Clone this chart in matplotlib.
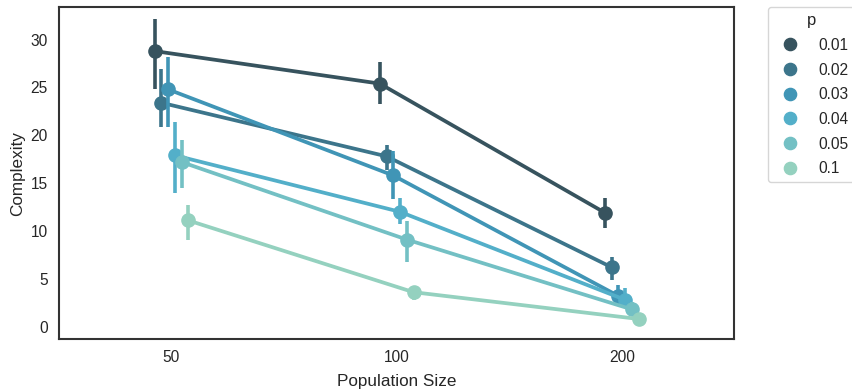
import matplotlib
matplotlib.use("Agg")
import matplotlib.pyplot as plt
import numpy as np
import seaborn as sns

sns.set_style("white")
plt.rcParams["font.family"] = ["Liberation Sans", "DejaVu Sans"]

# population sizes on the x axis, mutation rate p as hue
pop_sizes = ["50", "100", "200"]
p_values = ["0.01", "0.02", "0.03", "0.04", "0.05", "0.1"]

# mean complexity per p (rows) and population size (columns)
means = [
    [28.8, 25.4, 11.9],
    [23.4, 17.8, 6.2],
    [24.8, 15.8, 3.2],
    [17.9, 12.0, 2.8],
    [17.2, 9.1, 1.8],
    [11.1, 3.6, 0.8],
]
# confidence interval bounds
ci_low = [
    [24.8, 23.3, 10.3],
    [20.9, 16.4, 4.9],
    [20.9, 13.3, 2.2],
    [14.0, 10.7, 2.0],
    [14.5, 6.8, 1.2],
    [9.1, 2.8, 0.4],
]
ci_high = [
    [32.1, 27.7, 13.4],
    [26.9, 19.0, 7.3],
    [28.2, 18.4, 4.4],
    [21.4, 13.4, 4.0],
    [19.5, 11.0, 2.6],
    [12.7, 4.2, 1.2],
]

colors = sns.color_palette("GnBu_d", len(p_values))[::-1]

fig = plt.figure(figsize=(8.53, 3.92), dpi=100)
ax = fig.add_axes([0.069, 0.135, 0.792, 0.847])

x = np.arange(len(pop_sizes))
offsets = np.linspace(0, 0.15, len(p_values)) - 0.075

for i, p in enumerate(p_values):
    xs = x + offsets[i]
    c = colors[i]
    ax.vlines(xs, ci_low[i], ci_high[i], color=c, lw=2.6, zorder=2 + i)
    ax.plot(xs, means[i], color=c, lw=2.7, marker="o", ms=9.5,
            label=p, zorder=2 + i)

ax.set_xlim(-0.5, 2.5)
ax.set_ylim(-1.3, 33.4)
ax.set_xticks(x)
ax.set_xticklabels(pop_sizes)
ax.set_yticks([0, 5, 10, 15, 20, 25, 30])
ax.tick_params(labelsize=11.2, colors="#262626", length=0, pad=8)
ax.set_xlabel("Population Size", fontsize=12.3, color="#262626", labelpad=6)
ax.set_ylabel("Complexity", fontsize=12.3, color="#262626")
for s in ax.spines.values():
    s.set_color("#333333")
    s.set_linewidth(1.5)

handles = [plt.Line2D([], [], ls="", marker="o", ms=8.8, color=c) for c in colors]
leg = ax.legend(handles, p_values, title="p", loc=2, bbox_to_anchor=(1.05, 1),
                borderaxespad=0, fontsize=11.2, title_fontsize=12,
                frameon=True, handletextpad=0.8, labelspacing=0.62)
leg.get_frame().set_edgecolor("#cccccc")

fig.savefig("out.png", dpi=100)
